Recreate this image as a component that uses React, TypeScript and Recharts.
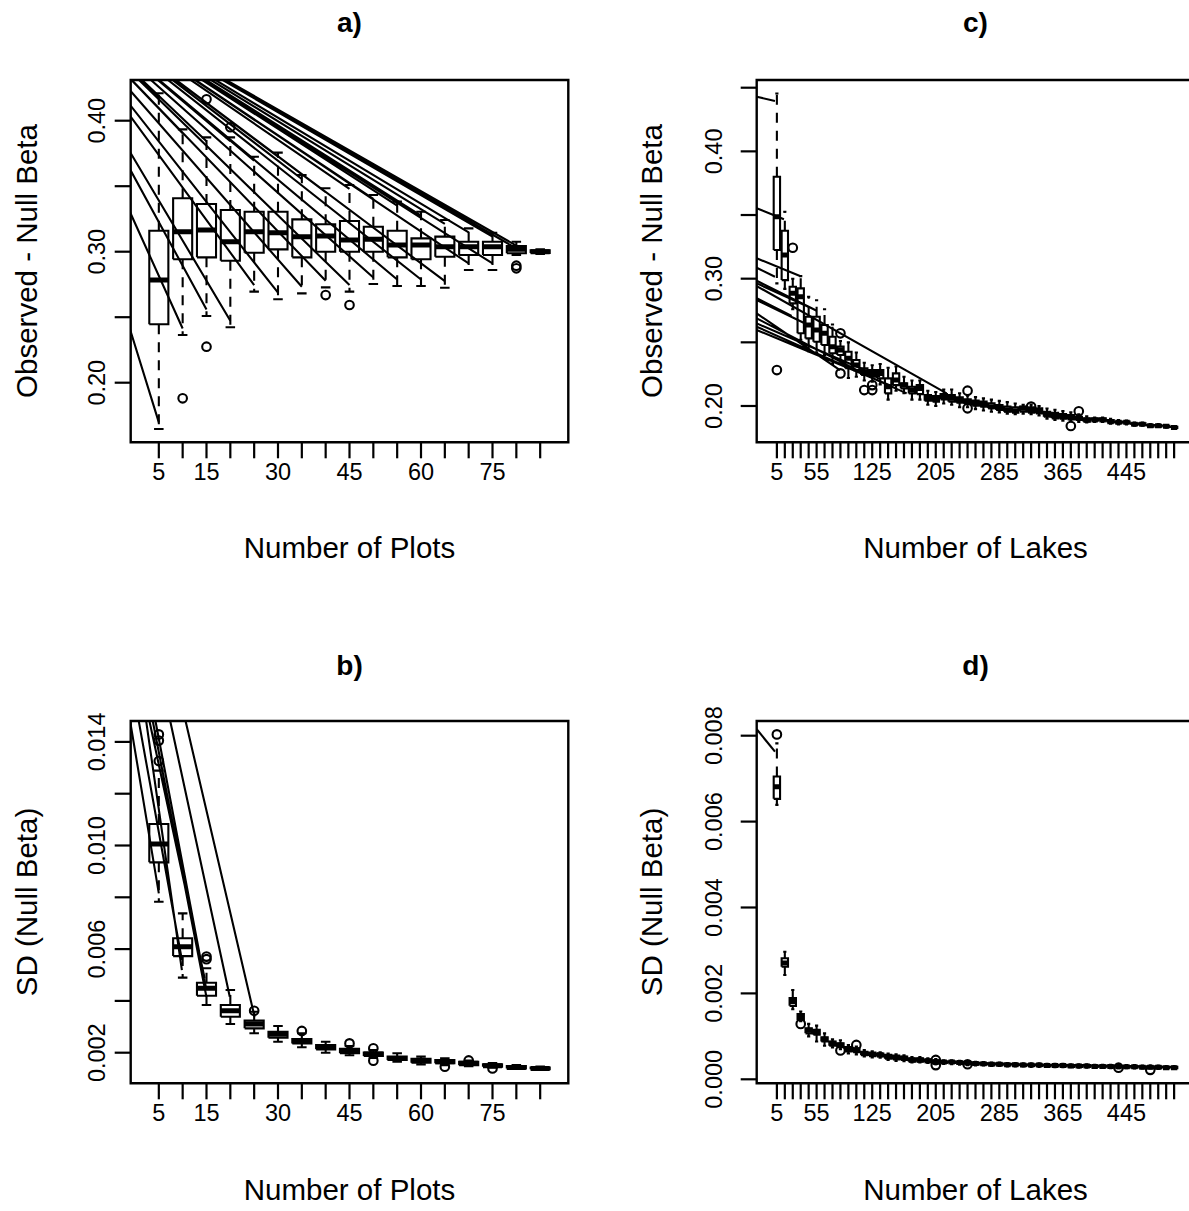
import React from 'react';
import { ComposedChart, Line, XAxis, YAxis, ReferenceArea } from 'recharts';

const FONT = '"Liberation Sans", Arial, Helvetica, sans-serif';

// ---------------- Panel a: Observed - Null Beta vs Number of Plots ----------------
const plotCounts = [5, 10, 15, 20, 25, 30, 35, 40, 45, 50, 55, 60, 65, 70, 75, 80, 85];
const plotCountLabels = [5, 15, 30, 45, 60, 75];
const aTicks = [0.2, 0.25, 0.3, 0.35, 0.4];
const aTickLabels = [0.2, 0.3, 0.4];
const aLow = [0.1647, 0.2364, 0.2509, 0.2423, 0.2695, 0.2637, 0.2682, 0.2728, 0.2695, 0.2753, 0.2738, 0.2738, 0.2725, 0.286, 0.286, 0.2975, 0.2982];
const aQ1 = [0.2446, 0.2942, 0.2957, 0.2931, 0.2992, 0.3018, 0.2957, 0.3, 0.3, 0.3, 0.2957, 0.2942, 0.2962, 0.2975, 0.2975, 0.2988, 0.299];
const aMed = [0.2784, 0.3153, 0.3166, 0.3076, 0.3153, 0.3145, 0.3115, 0.312, 0.3089, 0.3095, 0.3051, 0.3051, 0.3038, 0.3038, 0.3038, 0.3018, 0.3];
const aQ3 = [0.316, 0.3408, 0.3364, 0.3318, 0.3305, 0.3305, 0.3247, 0.3209, 0.3234, 0.3191, 0.316, 0.3102, 0.3115, 0.3076, 0.3076, 0.3043, 0.301];
const aHigh = [0.4209, 0.3934, 0.3873, 0.3873, 0.3725, 0.3756, 0.3585, 0.3484, 0.3509, 0.3433, 0.3382, 0.3305, 0.3242, 0.3178, 0.3145, 0.3076, 0.3018];
const aOutPos = [2, 3, 3, 4, 8, 9, 16, 16];
const aOutVal = [0.1881, 0.4163, 0.2275, 0.395, 0.2669, 0.2593, 0.2893, 0.2873];
// straight segments running from a far upper-left point to the whisker ends
const aRayOriginPos = -5;
const aRayOriginVal = 0.5227;
const aRayBoxes = 16;

// ---------------- Panel b: SD (Null Beta) vs Number of Plots ----------------
const bTicks = [0.002, 0.004, 0.006, 0.008, 0.01, 0.012, 0.014];
const bTickLabels = [0.002, 0.006, 0.01, 0.014];
const bLow = [0.00783, 0.0049, 0.00384, 0.00311, 0.00275, 0.00242, 0.00221, 0.002, 0.0019, 0.0018, 0.00165, 0.00155, 0.00152, 0.00148, 0.00142, 0.00137, 0.00134];
const bQ1 = [0.00935, 0.00573, 0.0042, 0.00339, 0.00294, 0.00258, 0.00236, 0.00213, 0.00198, 0.00187, 0.00172, 0.00161, 0.00159, 0.00152, 0.00146, 0.00139, 0.00136];
const bMed = [0.01006, 0.00609, 0.00449, 0.00362, 0.00311, 0.00271, 0.00245, 0.00222, 0.00208, 0.00195, 0.00178, 0.0017, 0.00165, 0.00159, 0.0015, 0.00143, 0.00139];
const bQ3 = [0.01083, 0.00642, 0.0047, 0.00384, 0.00324, 0.00281, 0.00253, 0.0023, 0.00215, 0.00201, 0.00185, 0.00176, 0.00172, 0.00165, 0.00155, 0.00148, 0.00143];
const bHigh = [0.01289, 0.00738, 0.00526, 0.00442, 0.00358, 0.00303, 0.00275, 0.00242, 0.00226, 0.0021, 0.00198, 0.00185, 0.00178, 0.0017, 0.0016, 0.00152, 0.00147];
const bOutPos = [1, 1, 1, 3, 3, 5, 7, 9, 10, 10, 13, 14, 15];
const bOutVal = [0.01429, 0.01405, 0.01326, 0.00571, 0.00561, 0.00362, 0.00284, 0.00236, 0.00217, 0.00169, 0.00146, 0.0017, 0.00139];
const bRayStartPos = [-0.204, 0.158, 0.469, 0.608, 0.747, 0.861, 1.48, 2.124];
const bRayStartVal = [0.0148, 0.0148, 0.0148, 0.0148, 0.0148, 0.0148, 0.0148, 0.0148];
const bRayEndPos = [1.0, 1.968, 1.968, 2.924, 2.996, 2.996, 3.977, 5.017];
const bRayEndVal = [0.00815, 0.00558, 0.00519, 0.00487, 0.00416, 0.00442, 0.00416, 0.00339];

// ---------------- Panel c: Observed - Null Beta vs Number of Lakes ----------------
const lakeCounts = [5, 15, 25, 35, 45, 55, 65, 75, 85, 95, 105, 115, 125, 135, 145, 155, 165, 175, 185, 195, 205, 215, 225, 235, 245, 255, 265, 275, 285, 295, 305, 315, 325, 335, 345, 355, 365, 375, 385, 395, 405, 415, 425, 435, 445, 455, 465, 475, 485, 495, 505];
const lakeCountLabels = [5, 55, 125, 205, 285, 365, 445];
const cTicks = [0.2, 0.25, 0.3, 0.35, 0.4, 0.45];
const cTickLabels = [0.2, 0.3, 0.4];
const cLow = [0.2963, 0.292, 0.276, 0.252, 0.243, 0.242, 0.24, 0.233, 0.233, 0.222, 0.223, 0.22, 0.219, 0.217, 0.205, 0.212, 0.21, 0.205, 0.205, 0.201, 0.2, 0.202, 0.201, 0.199, 0.199, 0.1975, 0.1965, 0.1955, 0.195, 0.194, 0.1935, 0.194, 0.1935, 0.1925, 0.19, 0.189, 0.1885, 0.188, 0.1875, 0.187, 0.1875, 0.1875, 0.186, 0.1855, 0.1855, 0.1845, 0.1845, 0.1835, 0.1835, 0.183, 0.1822];
const cQ1 = [0.3225, 0.2989, 0.2806, 0.2571, 0.2531, 0.2505, 0.2479, 0.2414, 0.24, 0.2296, 0.2282, 0.2243, 0.223, 0.2217, 0.2099, 0.2164, 0.2138, 0.2099, 0.2093, 0.2042, 0.2034, 0.2052, 0.2034, 0.2026, 0.2016, 0.2003, 0.1995, 0.1982, 0.1969, 0.1955, 0.1947, 0.1956, 0.1947, 0.1942, 0.1916, 0.1903, 0.19, 0.1895, 0.189, 0.1877, 0.1885, 0.1885, 0.187, 0.1864, 0.1864, 0.1851, 0.1851, 0.1838, 0.1838, 0.1836, 0.1828];
const cMed = [0.3487, 0.3186, 0.2885, 0.2858, 0.2636, 0.2597, 0.2571, 0.2466, 0.244, 0.2374, 0.2322, 0.2269, 0.2256, 0.2256, 0.2151, 0.2204, 0.2164, 0.2125, 0.2138, 0.206, 0.2052, 0.2073, 0.206, 0.2047, 0.2034, 0.2021, 0.2013, 0.1995, 0.1987, 0.1969, 0.1963, 0.1982, 0.1969, 0.1961, 0.1934, 0.1926, 0.1916, 0.1911, 0.1905, 0.189, 0.189, 0.189, 0.1877, 0.1872, 0.1872, 0.1857, 0.1857, 0.1845, 0.1845, 0.184, 0.1832];
const cQ3 = [0.3801, 0.3377, 0.2937, 0.2924, 0.2701, 0.2701, 0.2636, 0.2544, 0.2466, 0.2426, 0.2361, 0.2296, 0.2282, 0.2282, 0.2217, 0.2256, 0.2178, 0.2151, 0.2164, 0.2086, 0.2078, 0.2093, 0.2086, 0.2068, 0.2052, 0.2042, 0.2034, 0.2021, 0.2008, 0.1995, 0.199, 0.1995, 0.199, 0.1982, 0.1955, 0.1947, 0.1937, 0.1929, 0.1916, 0.1903, 0.1903, 0.1903, 0.189, 0.1877, 0.1877, 0.1864, 0.1864, 0.1851, 0.1851, 0.1845, 0.1836];
const cHigh = [0.4455, 0.3526, 0.3, 0.302, 0.2858, 0.283, 0.276, 0.264, 0.251, 0.25, 0.242, 0.234, 0.232, 0.233, 0.23, 0.231, 0.223, 0.22, 0.22, 0.212, 0.211, 0.213, 0.213, 0.21, 0.208, 0.207, 0.206, 0.205, 0.204, 0.203, 0.202, 0.201, 0.201, 0.2, 0.198, 0.197, 0.196, 0.195, 0.1935, 0.192, 0.191, 0.191, 0.19, 0.189, 0.1885, 0.187, 0.187, 0.1858, 0.1858, 0.185, 0.1842];
const cOutPos = [1, 3, 9, 9, 12, 13, 13, 25, 25, 33, 38, 39];
const cOutVal = [0.2282, 0.3243, 0.2571, 0.2256, 0.2125, 0.2164, 0.2125, 0.212, 0.1982, 0.1995, 0.1843, 0.1958];
const cRayStartPos = [-1.54, -1.54, -1.54, -1.54, -1.54, -1.54, -1.54, -1.54, -1.54, -1.54, -1.54, -1.54, -1.54, -1.54];
const cRayStartVal = [0.4429, 0.3553, 0.316, 0.3086, 0.2984, 0.2963, 0.2942, 0.2846, 0.2832, 0.2727, 0.2688, 0.2649, 0.2623, 0.2597];
const cRayEndPos = [0.76, 1.89, 3.91, 0.76, 6.01, 4.95, 22.37, 2.86, 4.95, 8.94, 11.88, 13.98, 17.34, 15.65];
const cRayEndVal = [0.4396, 0.3466, 0.3021, 0.3015, 0.2748, 0.278, 0.2099, 0.2707, 0.2636, 0.2282, 0.2256, 0.223, 0.2099, 0.2151];

// ---------------- Panel d: SD (Null Beta) vs Number of Lakes ----------------
const dTicks = [0, 0.002, 0.004, 0.006, 0.008];
const dTickLabels = [0, 0.002, 0.004, 0.006, 0.008];
const dLow = [0.00639, 0.00243, 0.00163, 0.00135, 0.001, 0.00088, 0.00078, 0.00074, 0.0007, 0.0006, 0.00058, 0.00053, 0.00051, 0.0005, 0.00045, 0.00043, 0.00042, 0.00039, 0.00039, 0.00038, 0.00035, 0.00036, 0.00035, 0.00034, 0.00033, 0.00032, 0.00032, 0.00031, 0.00031, 0.0003, 0.0003, 0.0003, 0.00029, 0.00029, 0.00029, 0.00028, 0.00028, 0.00028, 0.00027, 0.00027, 0.00027, 0.00027, 0.00026, 0.00026, 0.00026, 0.00025, 0.00025, 0.00025, 0.00024, 0.00024, 0.00024];
const dQ1 = [0.00653, 0.00262, 0.00171, 0.00138, 0.00107, 0.00104, 0.00088, 0.00078, 0.00075, 0.00065, 0.00063, 0.00056, 0.00054, 0.00053, 0.00048, 0.00046, 0.00045, 0.00041, 0.00041, 0.0004, 0.00037, 0.00038, 0.00038, 0.00036, 0.00035, 0.00034, 0.00034, 0.00033, 0.00033, 0.00032, 0.00032, 0.00031, 0.00031, 0.00031, 0.0003, 0.0003, 0.0003, 0.00029, 0.00029, 0.00029, 0.00029, 0.00028, 0.00028, 0.00028, 0.00027, 0.00027, 0.00027, 0.00026, 0.00026, 0.00026, 0.00026];
const dMed = [0.00681, 0.00271, 0.00181, 0.00146, 0.00114, 0.00109, 0.00093, 0.00084, 0.0008, 0.0007, 0.00068, 0.0006, 0.00058, 0.00057, 0.00053, 0.00051, 0.00049, 0.00045, 0.00045, 0.00043, 0.00041, 0.0004, 0.0004, 0.00039, 0.00038, 0.00037, 0.00036, 0.00035, 0.00035, 0.00034, 0.00034, 0.00033, 0.00033, 0.00033, 0.00032, 0.00032, 0.00032, 0.00031, 0.00031, 0.00031, 0.0003, 0.0003, 0.0003, 0.00029, 0.00029, 0.00029, 0.00028, 0.00028, 0.00028, 0.00027, 0.00027];
const dQ3 = [0.00705, 0.00282, 0.00189, 0.00152, 0.00119, 0.00115, 0.00098, 0.00088, 0.00084, 0.00075, 0.00072, 0.00064, 0.00062, 0.0006, 0.00057, 0.00055, 0.00053, 0.00049, 0.00049, 0.00046, 0.00044, 0.00042, 0.00042, 0.00041, 0.0004, 0.00039, 0.00038, 0.00037, 0.00037, 0.00036, 0.00036, 0.00035, 0.00035, 0.00035, 0.00034, 0.00034, 0.00034, 0.00033, 0.00033, 0.00033, 0.00032, 0.00032, 0.00032, 0.00031, 0.00031, 0.00031, 0.0003, 0.0003, 0.0003, 0.00029, 0.00029];
const dHigh = [0.00782, 0.00297, 0.00208, 0.00158, 0.00129, 0.00125, 0.00107, 0.00093, 0.00091, 0.0008, 0.00076, 0.00068, 0.00065, 0.00063, 0.0006, 0.00058, 0.00056, 0.00052, 0.00052, 0.00049, 0.00047, 0.00044, 0.00044, 0.00043, 0.00042, 0.00041, 0.0004, 0.00039, 0.00039, 0.00038, 0.00038, 0.00037, 0.00037, 0.00037, 0.00036, 0.00036, 0.00036, 0.00035, 0.00035, 0.00035, 0.00034, 0.00034, 0.00034, 0.00033, 0.00033, 0.00033, 0.00032, 0.00032, 0.00032, 0.00031, 0.00031];
const dOutPos = [1, 4, 9, 11, 21, 21, 25, 44, 48];
const dOutVal = [0.00803, 0.00129, 0.00067, 0.0008, 0.00045, 0.00033, 0.00035, 0.00027, 0.00022];
const dRayStartPos = [-1.54];
const dRayStartVal = [0.00815];
const dRayEndPos = [0.76];
const dRayEndVal = [0.00763];

// ---------------- helpers ----------------
type Pt = { x: number; y: number | null };

function boxParts(low: number[], q1: number[], med: number[], q3: number[], high: number[]) {
  const hw = 0.4; // half box width (boxwex 0.8)
  const cw = 0.2; // half staple width
  const outline: Pt[] = [];
  const medians: Pt[] = [];
  const whiskers: Pt[] = [];
  const caps: Pt[] = [];
  low.forEach((_, i) => {
    const p = i + 1;
    outline.push({ x: p - hw, y: q1[i] }, { x: p + hw, y: q1[i] }, { x: p + hw, y: q3[i] }, { x: p - hw, y: q3[i] }, { x: p - hw, y: q1[i] }, { x: p, y: null });
    medians.push({ x: p - hw, y: med[i] }, { x: p + hw, y: med[i] }, { x: p, y: null });
    whiskers.push({ x: p, y: q3[i] }, { x: p, y: high[i] }, { x: p, y: null }, { x: p, y: q1[i] }, { x: p, y: low[i] }, { x: p, y: null });
    caps.push({ x: p - cw, y: high[i] }, { x: p + cw, y: high[i] }, { x: p, y: null }, { x: p - cw, y: low[i] }, { x: p + cw, y: low[i] }, { x: p, y: null });
  });
  return { outline, medians, whiskers, caps };
}

function segments(sx: number[], sy: number[], ex: number[], ey: number[]): Pt[] {
  const out: Pt[] = [];
  sx.forEach((_, i) => {
    out.push({ x: sx[i], y: sy[i] }, { x: ex[i], y: ey[i] }, { x: ex[i], y: null });
  });
  return out;
}

function points(px: number[], py: number[]): Pt[] {
  return px.map((p, i) => ({ x: p, y: py[i] }));
}

function labelMap(cats: number[], labeled: number[]): Record<number, string> {
  const m: Record<number, string> = {};
  cats.forEach((c, i) => {
    if (labeled.includes(c)) m[i + 1] = String(c);
  });
  return m;
}

const aRays = (() => {
  const sx: number[] = [], sy: number[] = [], ex: number[] = [], ey: number[] = [];
  for (let i = 0; i < aRayBoxes; i++) {
    sx.push(aRayOriginPos); sy.push(aRayOriginVal); ex.push(i + 1); ey.push(aLow[i] + 0.005);
    sx.push(aRayOriginPos); sy.push(aRayOriginVal); ex.push(i + 1); ey.push(aHigh[i] - 0.003);
  }
  return segments(sx, sy, ex, ey);
})();

type PanelCfg = {
  left: number; top: number; width: number; height: number;
  marginTop: number; marginRight: number; yAxisWidth: number; xAxisHeight: number; yLabelShift: number;
  cats: number[]; catLabels: number[];
  yDomain: [number, number]; yTicks: number[]; yTickLabels: number[]; yDigits: number;
  low: number[]; q1: number[]; med: number[]; q3: number[]; high: number[];
  outliers: Pt[]; rays: Pt[];
};

const XTick = (props: any) => {
  const { x, y, payload, labels } = props;
  const lab = labels[payload.value];
  if (lab === undefined) return <g />;
  return (
    <text x={x} y={y + 19.7} textAnchor="middle" fontSize={23.5} fontFamily={FONT} fill="#000">
      {lab}
    </text>
  );
};

const YTick = (props: any) => {
  const { x, y, payload, labeled, digits, shift } = props;
  const ok = labeled.some((v: number) => Math.abs(v - payload.value) < 1e-9);
  if (!ok) return <g />;
  const bx = x - shift;
  return (
    <text x={bx} y={y} transform={`rotate(-90 ${bx} ${y})`} textAnchor="middle" fontSize={23.5} fontFamily={FONT} fill="#000">
      {Number(payload.value).toFixed(digits)}
    </text>
  );
};

const LW = 2.1;

const Panel = ({ cfg }: { cfg: PanelCfg }) => {
  const n = cfg.cats.length;
  const xDomain: [number, number] = [0.5 - 0.04 * n, n + 0.5 + 0.04 * n];
  const positions = cfg.cats.map((_, i) => i + 1);
  const labels = labelMap(cfg.cats, cfg.catLabels);
  const parts = boxParts(cfg.low, cfg.q1, cfg.med, cfg.q3, cfg.high);
  const common = { dataKey: 'y', dot: false, activeDot: false, isAnimationActive: false, connectNulls: false, type: 'linear' as const };
  return (
    <div style={{ position: 'absolute', left: cfg.left, top: cfg.top }}>
      <ComposedChart width={cfg.width} height={cfg.height} margin={{ top: cfg.marginTop, right: cfg.marginRight, bottom: 0, left: 0 }}>
        <XAxis
          type="number"
          dataKey="x"
          domain={xDomain}
          allowDataOverflow
          ticks={positions}
          interval={0}
          height={cfg.xAxisHeight}
          tickSize={16}
          tickMargin={2}
          axisLine={false}
          tickLine={{ stroke: '#000', strokeWidth: 2.2 }}
          tick={(p: any) => <XTick {...p} labels={labels} />}
        />
        <YAxis
          type="number"
          domain={cfg.yDomain}
          allowDataOverflow
          ticks={cfg.yTicks}
          interval={0}
          width={cfg.yAxisWidth}
          tickSize={16}
          tickMargin={2}
          axisLine={false}
          tickLine={{ stroke: '#000', strokeWidth: 2.2 }}
          tick={(p: any) => <YTick {...p} labeled={cfg.yTickLabels} digits={cfg.yDigits} shift={cfg.yLabelShift} />}
        />
        <ReferenceArea x1={xDomain[0]} x2={xDomain[1]} y1={cfg.yDomain[0]} y2={cfg.yDomain[1]} fill="none" fillOpacity={0} stroke="#000" strokeWidth={2.4} ifOverflow="visible" />
        <Line {...common} data={parts.whiskers} stroke="#000" strokeWidth={LW} strokeDasharray="10 8" />
        <Line {...common} data={parts.caps} stroke="#000" strokeWidth={LW} />
        <Line {...common} data={parts.outline} stroke="#000" strokeWidth={LW} />
        <Line {...common} data={parts.medians} stroke="#000" strokeWidth={5} />
        <Line {...common} data={cfg.rays} stroke="#000" strokeWidth={LW} />
        <Line
          {...common}
          data={cfg.outliers}
          stroke="none"
          dot={(p: any) => <circle key={`o${p.index}`} cx={p.cx} cy={p.cy} r={4.3} fill="none" stroke="#000" strokeWidth={LW} />}
        />
      </ComposedChart>
    </div>
  );
};

const panelA: PanelCfg = {
  left: 0, top: 0, width: 620, height: 600, marginTop: 80, marginRight: 51.7, yAxisWidth: 130.7, xAxisHeight: 157.7, yLabelShift: 8,
  cats: plotCounts, catLabels: plotCountLabels, yDomain: [0.1545, 0.43107], yTicks: aTicks, yTickLabels: aTickLabels, yDigits: 2,
  low: aLow, q1: aQ1, med: aMed, q3: aQ3, high: aHigh, outliers: points(aOutPos, aOutVal), rays: aRays,
};
const panelB: PanelCfg = {
  left: 0, top: 600, width: 620, height: 611, marginTop: 121, marginRight: 51.7, yAxisWidth: 130.7, xAxisHeight: 127.7, yLabelShift: 8,
  cats: plotCounts, catLabels: plotCountLabels, yDomain: [0.0008185, 0.014807], yTicks: bTicks, yTickLabels: bTickLabels, yDigits: 3,
  low: bLow, q1: bQ1, med: bMed, q3: bQ3, high: bHigh, outliers: points(bOutPos, bOutVal),
  rays: segments(bRayStartPos, bRayStartVal, bRayEndPos, bRayEndVal),
};
const panelC: PanelCfg = {
  left: 620, top: 0, width: 600, height: 600, marginTop: 80, marginRight: 25.7, yAxisWidth: 136.7, xAxisHeight: 157.7, yLabelShift: 17,
  cats: lakeCounts, catLabels: lakeCountLabels, yDomain: [0.17148, 0.45605], yTicks: cTicks, yTickLabels: cTickLabels, yDigits: 2,
  low: cLow, q1: cQ1, med: cMed, q3: cQ3, high: cHigh, outliers: points(cOutPos, cOutVal),
  rays: segments(cRayStartPos, cRayStartVal, cRayEndPos, cRayEndVal),
};
const panelD: PanelCfg = {
  left: 620, top: 600, width: 600, height: 611, marginTop: 121, marginRight: 25.7, yAxisWidth: 136.7, xAxisHeight: 127.7, yLabelShift: 17,
  cats: lakeCounts, catLabels: lakeCountLabels, yDomain: [-0.0000932, 0.008342], yTicks: dTicks, yTickLabels: dTickLabels, yDigits: 3,
  low: dLow, q1: dQ1, med: dMed, q3: dQ3, high: dHigh, outliers: points(dOutPos, dOutVal),
  rays: segments(dRayStartPos, dRayStartVal, dRayEndPos, dRayEndVal),
};

const titles = [
  { t: 'a)', x: 349.5, y: 32 },
  { t: 'c)', x: 975.5, y: 32 },
  { t: 'b)', x: 349.5, y: 675 },
  { t: 'd)', x: 975.5, y: 675 },
];
const xTitles = [
  { t: 'Number of Plots', x: 349.5, y: 558 },
  { t: 'Number of Lakes', x: 975.5, y: 558 },
  { t: 'Number of Plots', x: 349.5, y: 1200 },
  { t: 'Number of Lakes', x: 975.5, y: 1200 },
];
const yTitles = [
  { t: 'Observed - Null Beta', x: 37, y: 261 },
  { t: 'Observed - Null Beta', x: 662, y: 261 },
  { t: 'SD (Null Beta)', x: 37, y: 902 },
  { t: 'SD (Null Beta)', x: 662, y: 902 },
];

export default function App() {
  return (
    <div style={{ position: 'absolute', left: 0, top: 0, width: 1189, height: 1211, overflow: 'hidden', background: '#fff' }}>
      <Panel cfg={panelA} />
      <Panel cfg={panelB} />
      <Panel cfg={panelC} />
      <Panel cfg={panelD} />
      <svg width={1189} height={1211} style={{ position: 'absolute', left: 0, top: 0, pointerEvents: 'none' }}>
        {titles.map((d) => (
          <text key={d.t} x={d.x} y={d.y} textAnchor="middle" fontSize={28} fontWeight="bold" fontFamily={FONT} fill="#000">{d.t}</text>
        ))}
        {xTitles.map((d, i) => (
          <text key={'x' + i} x={d.x} y={d.y} textAnchor="middle" fontSize={29.5} fontFamily={FONT} fill="#000">{d.t}</text>
        ))}
        {yTitles.map((d, i) => (
          <text key={'y' + i} x={d.x} y={d.y} transform={`rotate(-90 ${d.x} ${d.y})`} textAnchor="middle" fontSize={29.5} fontFamily={FONT} fill="#000">{d.t}</text>
        ))}
      </svg>
    </div>
  );
}
